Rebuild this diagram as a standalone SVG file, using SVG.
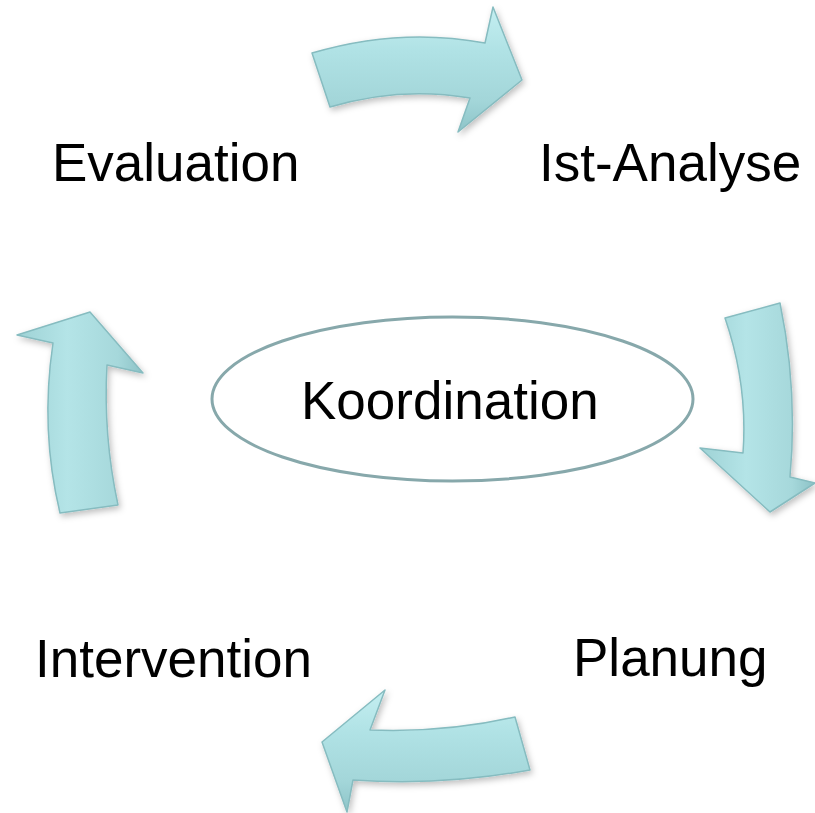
<svg xmlns="http://www.w3.org/2000/svg" width="815" height="813" viewBox="0 0 815 813">
  <style>
    .lbl { font-family: "Liberation Sans", Arial, sans-serif; font-size: 53px; fill: #000; }
    .arrow { stroke: #86bcc0; stroke-width: 1.5; stroke-linejoin: round; filter: url(#shadow); }
    .hz { fill: url(#gradH); }
    .vt { fill: url(#gradV); }
  </style>
  <defs>
    <linearGradient id="gradH" x1="0" y1="0" x2="0" y2="1">
      <stop offset="0" stop-color="#c4eff1"/>
      <stop offset="0.35" stop-color="#b0e2e5"/>
      <stop offset="0.75" stop-color="#a3d6d9"/>
      <stop offset="1" stop-color="#8ec4c8"/>
    </linearGradient>
    <linearGradient id="gradV" x1="0" y1="0" x2="1" y2="0">
      <stop offset="0" stop-color="#9ed2d5"/>
      <stop offset="0.4" stop-color="#b4e4e7"/>
      <stop offset="0.8" stop-color="#a6d8db"/>
      <stop offset="1" stop-color="#8cc2c6"/>
    </linearGradient>
    <filter id="shadow" x="-20%" y="-20%" width="140%" height="140%">
      <feDropShadow dx="2" dy="3" stdDeviation="3" flood-color="#000" flood-opacity="0.25"/>
    </filter>
  </defs>
  <rect width="815" height="813" fill="#fff"/>

  <g id="connectors">
    <path id="arrow-top" class="arrow hz" d="M312,53 Q400,27 485,43 L493,7 L522,80 L458,132 L470,98 Q400,86 330,107 Z"/>
    <path id="arrow-right" class="arrow vt" d="M725,318 L780,303 Q798,390 790,477 L815,483 L770,512 L700,448 L743,453 Q748,385 725,318 Z"/>
    <path id="arrow-bottom" class="arrow hz" d="M385,690 L370,730 Q443,733 515,717 L530,770 Q443,786 353,780 L347,812 L322,742 Z"/>
    <path id="arrow-left" class="arrow vt" d="M17,335 L90,312 L143,373 L107,365 Q103,435 118,505 L60,513 Q40,430 53,343 Z"/>
  </g>

  <g id="node-evaluation"><text class="lbl" x="52" y="181">Evaluation</text></g>
  <g id="node-ist-analyse"><text class="lbl" x="539" y="181">Ist-Analyse</text></g>
  <g id="node-planung"><text class="lbl" x="573" y="676">Planung</text></g>
  <g id="node-intervention"><text class="lbl" x="35" y="677">Intervention</text></g>
  <g id="node-koordination">
    <ellipse cx="452.5" cy="399" rx="240.5" ry="82" fill="#fff" stroke="#87a8ab" stroke-width="3"/>
    <text class="lbl" x="301" y="419">Koordination</text>
  </g>
</svg>
